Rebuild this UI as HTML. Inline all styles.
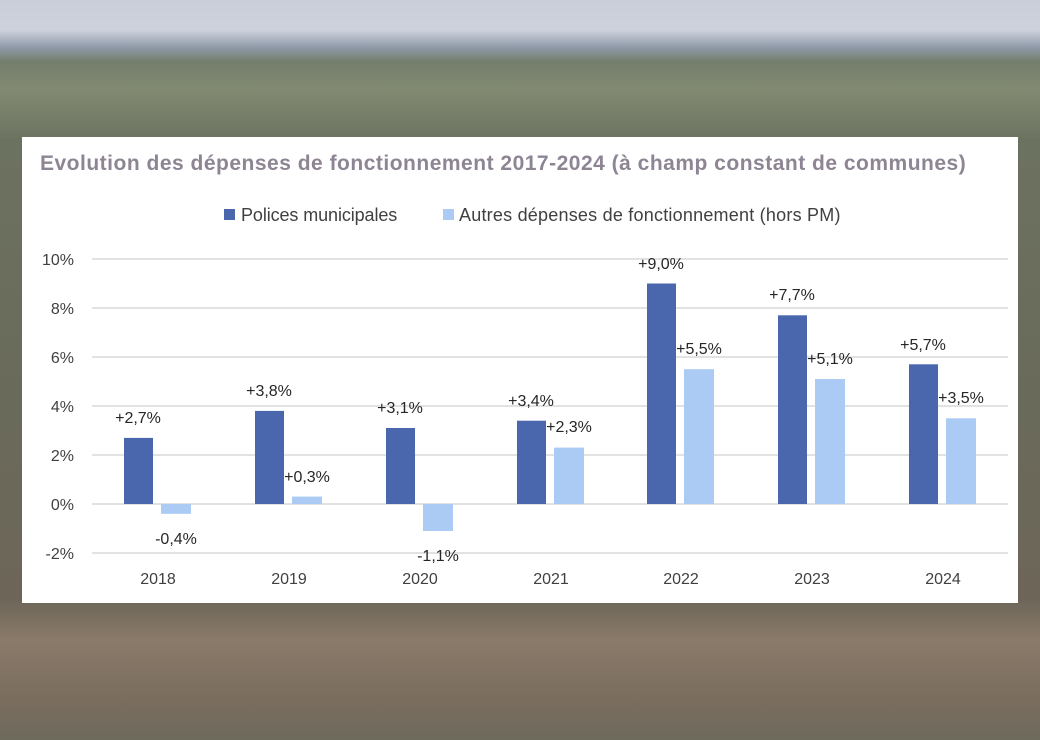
<!DOCTYPE html>
<html><head><meta charset="utf-8"><style>
html,body{margin:0;padding:0}
body{width:1040px;height:740px;position:relative;overflow:hidden;font-family:"Liberation Sans",sans-serif;
background:linear-gradient(180deg,#c9ced8 0px,#cdd2dc 30px,#8e98a6 48px,#737e6c 62px,#828a72 90px,#6c7260 140px,#6a6a5a 400px,#6d6658 600px,#8a7a6a 640px,#7a6d5e 700px,#6e6a5c 740px);}
.card{position:absolute;left:22px;top:137px;width:996px;height:466px;background:#fff}
</style></head><body>
<div class="card"></div>
<svg width="1040" height="740" style="position:absolute;left:0;top:0" font-family="Liberation Sans, sans-serif">
<text x="40" y="170" font-size="21" font-weight="bold" fill="#8e8594" letter-spacing="0.5">Evolution des dépenses de fonctionnement 2017-2024 (à champ constant de communes)</text>
<rect x="224" y="209" width="11" height="11" fill="#4a67ae"/>
<text x="241" y="221" font-size="18" fill="#404040" letter-spacing="-0.1">Polices municipales</text>
<rect x="443" y="209" width="11" height="11" fill="#abcbf5"/>
<text x="459" y="221" font-size="18" fill="#404040" letter-spacing="0.22">Autres dépenses de fonctionnement (hors PM)</text>
<g stroke="#d9d9d9" stroke-width="1.5">
<line x1="92" x2="1008" y1="259" y2="259"/><line x1="92" x2="1008" y1="308" y2="308"/>
<line x1="92" x2="1008" y1="357" y2="357"/><line x1="92" x2="1008" y1="406" y2="406"/>
<line x1="92" x2="1008" y1="455" y2="455"/><line x1="92" x2="1008" y1="504" y2="504"/>
<line x1="92" x2="1008" y1="553" y2="553"/></g>
<g font-size="16" fill="#404040" text-anchor="end">
<text x="74" y="265">10%</text><text x="74" y="314">8%</text><text x="74" y="363">6%</text>
<text x="74" y="412">4%</text><text x="74" y="461">2%</text><text x="74" y="510">0%</text><text x="74" y="559">-2%</text></g>
<g font-size="16" fill="#404040" text-anchor="middle">
<text x="158" y="584">2018</text><text x="289" y="584">2019</text><text x="420" y="584">2020</text>
<text x="551" y="584">2021</text><text x="681" y="584">2022</text><text x="812" y="584">2023</text><text x="943" y="584">2024</text></g>
<g fill="#4a67ae">
<rect x="124" y="437.9" width="29" height="66.1"/>
<rect x="255" y="410.9" width="29" height="93.1"/>
<rect x="386" y="428" width="29" height="76"/>
<rect x="517" y="420.7" width="29" height="83.3"/>
<rect x="647" y="283.5" width="29" height="220.5"/>
<rect x="778" y="315.3" width="29" height="188.7"/>
<rect x="909" y="364.3" width="29" height="139.7"/></g>
<g fill="#abcbf5">
<rect x="161" y="504" width="30" height="9.8"/>
<rect x="292" y="496.6" width="30" height="7.4"/>
<rect x="423" y="504" width="30" height="27"/>
<rect x="554" y="447.6" width="30" height="56.4"/>
<rect x="684" y="369.2" width="30" height="134.8"/>
<rect x="815" y="379" width="30" height="125"/>
<rect x="946" y="418.3" width="30" height="85.7"/></g>
<g font-size="16" fill="#262626" text-anchor="middle">
<text x="138" y="423">+2,7%</text><text x="176" y="544">-0,4%</text>
<text x="269" y="396">+3,8%</text><text x="307" y="482">+0,3%</text>
<text x="400" y="413">+3,1%</text><text x="438" y="561">-1,1%</text>
<text x="531" y="406">+3,4%</text><text x="569" y="432">+2,3%</text>
<text x="661" y="269">+9,0%</text><text x="699" y="354">+5,5%</text>
<text x="792" y="300">+7,7%</text><text x="830" y="364">+5,1%</text>
<text x="923" y="350">+5,7%</text><text x="961" y="403">+3,5%</text></g>
</svg>
</body></html>
